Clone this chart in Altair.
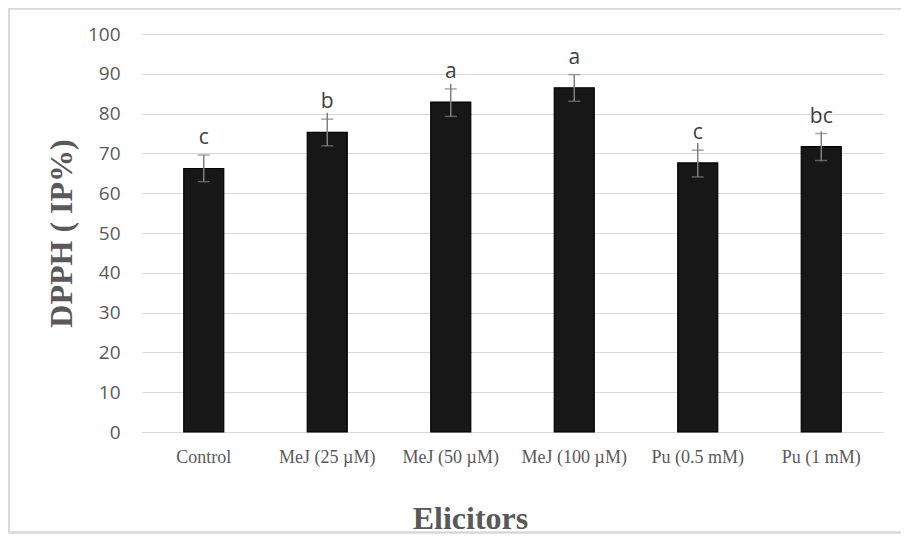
import altair as alt
import pandas as pd

categories = ["Control", "MeJ (25 µM)", "MeJ (50 µM)", "MeJ (100 µM)", "Pu (0.5 mM)", "Pu (1 mM)"]
means = [66.2, 75.3, 82.9, 86.5, 67.6, 71.7]
err_low = [62.9, 71.9, 79.3, 83.1, 64.1, 68.2]
err_high = [69.6, 78.6, 86.2, 89.8, 70.8, 75.0]
stem_top = [69.6, 80.2, 87.5, 89.8, 72.6, 75.5]
letters = ["c", "b", "a", "a", "c", "bc"]
y_ticks = [0, 10, 20, 30, 40, 50, 60, 70, 80, 90, 100]

df = pd.DataFrame({
    "cat": categories, "mean": means, "lo": err_low, "hi": err_high,
    "stem": stem_top, "letter": letters,
})

W, H = 741, 398

xaxis = alt.Axis(title="Elicitors", labelAngle=0, labelFont="Liberation Serif",
                 labelFontSize=18, labelColor="#595959", labelPadding=16,
                 ticks=False, domain=True, domainColor="#d9d9d9", domainWidth=1.2,
                 titleFont="Liberation Serif", titleFontWeight="bold",
                 titleFontSize=32, titleColor="#595959",
                 titleX=328, titleY=96, titleBaseline="alphabetic")
xscale = alt.Scale(paddingInner=0.676, paddingOuter=0.338)

yaxis = alt.Axis(title="DPPH ( IP%)", values=y_ticks, labelOverlap=False,
                 grid=True, gridColor="#d9d9d9", gridWidth=1.2,
                 domain=False, ticks=False, tickSize=0,
                 labelFont="Open Sans", labelFontSize=19, labelColor="#595959",
                 labelPadding=22,
                 titleFont="Liberation Serif", titleFontWeight="bold",
                 titleFontSize=32, titleColor="#595959",
                 titleX=-71, titleY=199, titleAngle=-90,
                 titleAlign="center", titleBaseline="alphabetic")
yscale = alt.Scale(domain=[0, 100], nice=False)


def X():
    return alt.X("cat:N", sort=categories, scale=xscale, axis=xaxis)


def Y(field):
    return alt.Y(field, type="quantitative", scale=yscale, axis=yaxis, title="DPPH ( IP%)")


bars = alt.Chart(df).mark_bar(color="#171717", stroke="#000000", strokeWidth=1.2).encode(
    x=X(), y=Y("mean"))

stems = alt.Chart(df).mark_rule(color="#808080", strokeWidth=1.5).encode(
    x=X(), y=Y("lo"), y2="stem:Q")

caps_hi = alt.Chart(df).mark_tick(color="#808080", thickness=1.5, size=12, orient="horizontal").encode(
    x=X(), y=Y("hi"))
caps_lo = alt.Chart(df).mark_tick(color="#808080", thickness=1.5, size=12, orient="horizontal").encode(
    x=X(), y=Y("lo"))

labels = alt.Chart(df).mark_text(font="Open Sans", fontSize=21, color="#404040",
                                 baseline="middle", dy=-17).encode(
    x=X(), y=Y("hi"), text="letter:N")

border = alt.Chart(df).mark_rect(fill=None, stroke="#d9d9d9", strokeWidth=1.5).encode(
    x=alt.value(-133), x2=alt.value(780), y=alt.value(-25.5), y2=alt.value(498.5))

chart = alt.layer(bars, stems, caps_hi, caps_lo, labels, border).properties(
    width=W, height=H,
    background="white",
    autosize=alt.AutoSizeParams(type="none"),
    padding={"left": 134, "top": 26, "right": 18, "bottom": 102},
).configure_view(stroke=None)

chart.save("out.html", embed_options={"renderer": "svg", "actions": False})
